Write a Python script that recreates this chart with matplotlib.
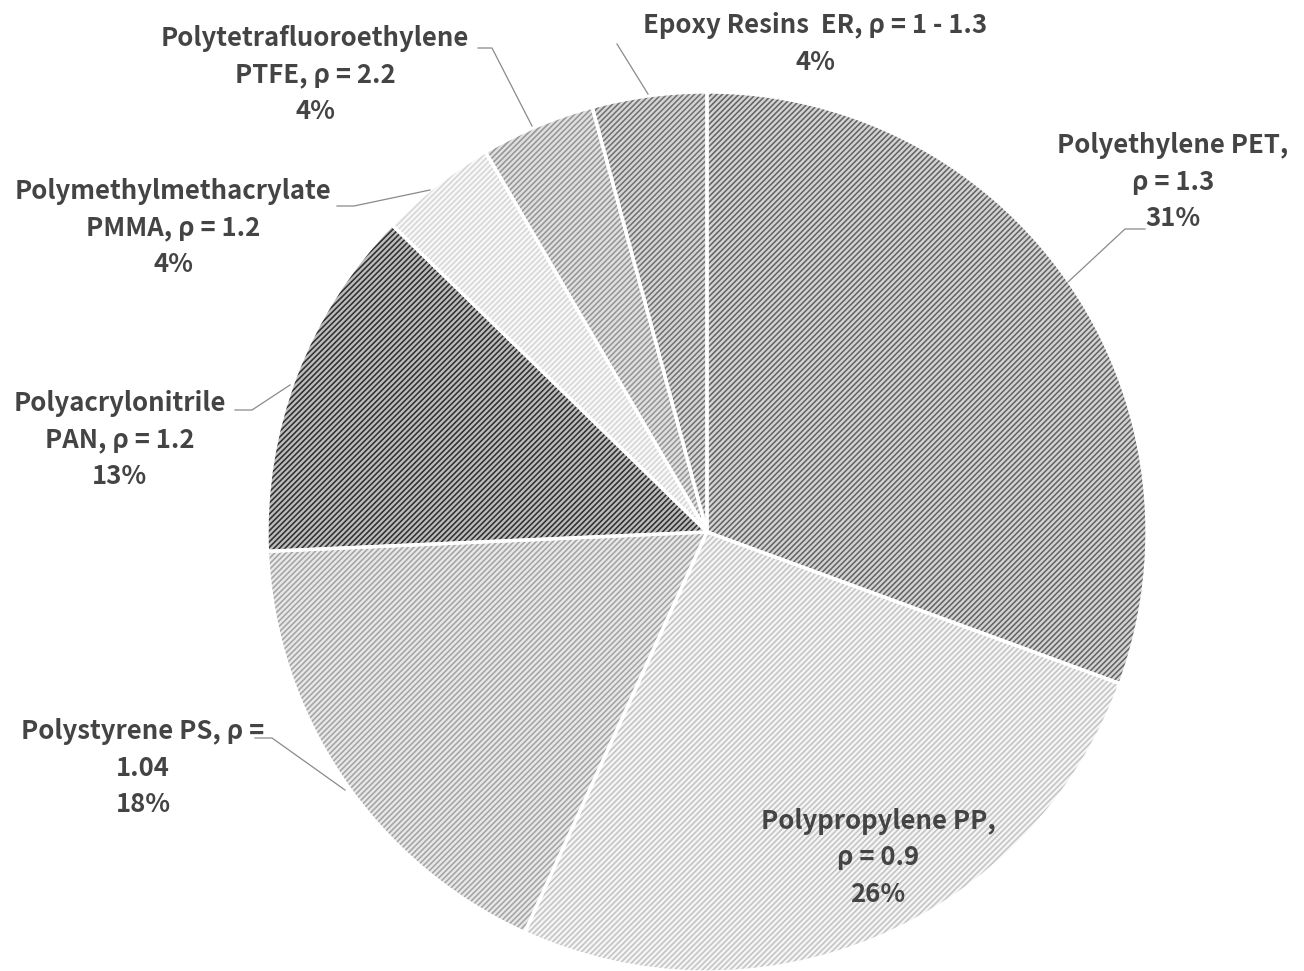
import numpy as np
import matplotlib.pyplot as plt

# --- data (clockwise from 12 o'clock) ---
materials = ["Polyethylene PET", "Polypropylene PP", "Polystyrene PS",
             "Polyacrylonitrile PAN", "Polymethylmethacrylate PMMA",
             "Polytetrafluoroethylene PTFE", "Epoxy Resins ER"]
shares = [30.6, 26.2, 17.5, 13.0, 4.3, 4.2, 4.2]
pct_labels = ["31%", "26%", "18%", "13%", "4%", "4%", "4%"]
label_text = [
    "Polyethylene PET,\nρ = 1.3",
    "Polypropylene PP,\nρ = 0.9",
    "Polystyrene PS, ρ =\n1.04",
    "Polyacrylonitrile\nPAN, ρ = 1.2",
    "Polymethylmethacrylate\nPMMA, ρ = 1.2",
    "Polytetrafluoroethylene\nPTFE, ρ = 2.2",
    "Epoxy Resins  ER, ρ = 1 - 1.3",
]

# fill / hatch greys per slice
face_cols = ["#d4d4d4", "#f5f5f5", "#e8e8e8", "#bcbcbc", "#f8f8f8", "#e0e0e0", "#d6d6d6"]
hatch_cols = ["#646464", "#c4c4c4", "#a4a4a4", "#303030", "#d6d6d6", "#969696", "#727272"]

plt.rcParams["font.family"] = ["Noto Sans CJK KR", "DejaVu Sans"]
plt.rcParams["hatch.linewidth"] = 1.15

W, H = 1304, 971
fig = plt.figure(figsize=(W / 100, H / 100), dpi=100)
ax = fig.add_axes([0, 0, 1, 1])

cx, cy, r = 707, H - 532, 440

wedges, _ = ax.pie(shares, startangle=90, counterclock=False,
                   center=(cx, cy), radius=r, frame=True)
for w, fc, hc in zip(wedges, face_cols, hatch_cols):
    w.set_facecolor(fc)
    w.set_edgecolor(hc)
    w.set_linewidth(0)
    w.set_hatch("//////")

# white separators
ax.pie(shares, startangle=90, counterclock=False,
       center=(cx, cy), radius=r, frame=True,
       wedgeprops=dict(fill=False, edgecolor="white", linewidth=2.4))
ax.set_xlim(0, W)
ax.set_ylim(0, H)
ax.set_aspect("equal")
ax.axis("off")

txt_kw = dict(ha="center", va="center", fontsize=18.5, fontweight="bold",
              color="#444444", linespacing=1.45)

# label anchors (pixel coords, y from top)
label_pos = [(1173, 182), (878, 858), (143, 768), (120, 440),
             (173, 228), (315, 75), (815, 44)]
for (x, y), t, p in zip(label_pos, label_text, pct_labels):
    ax.text(x, H - y, t + "\n" + p, **txt_kw)

# leader lines
leaders = [
    [(1145, 229), (1125, 229), (1068, 282)],
    [(255, 738), (272, 738), (345, 790)],
    [(235, 410), (252, 410), (290, 385)],
    [(337, 206), (354, 206), (430, 190)],
    [(478, 48), (492, 48), (532, 126)],
    [(617, 44), (648, 94)],
]
for pts in leaders:
    xs = [p[0] for p in pts]
    ys = [H - p[1] for p in pts]
    ax.plot(xs, ys, color="#8a8a8a", lw=0.9)

fig.savefig("out.png", dpi=100)
